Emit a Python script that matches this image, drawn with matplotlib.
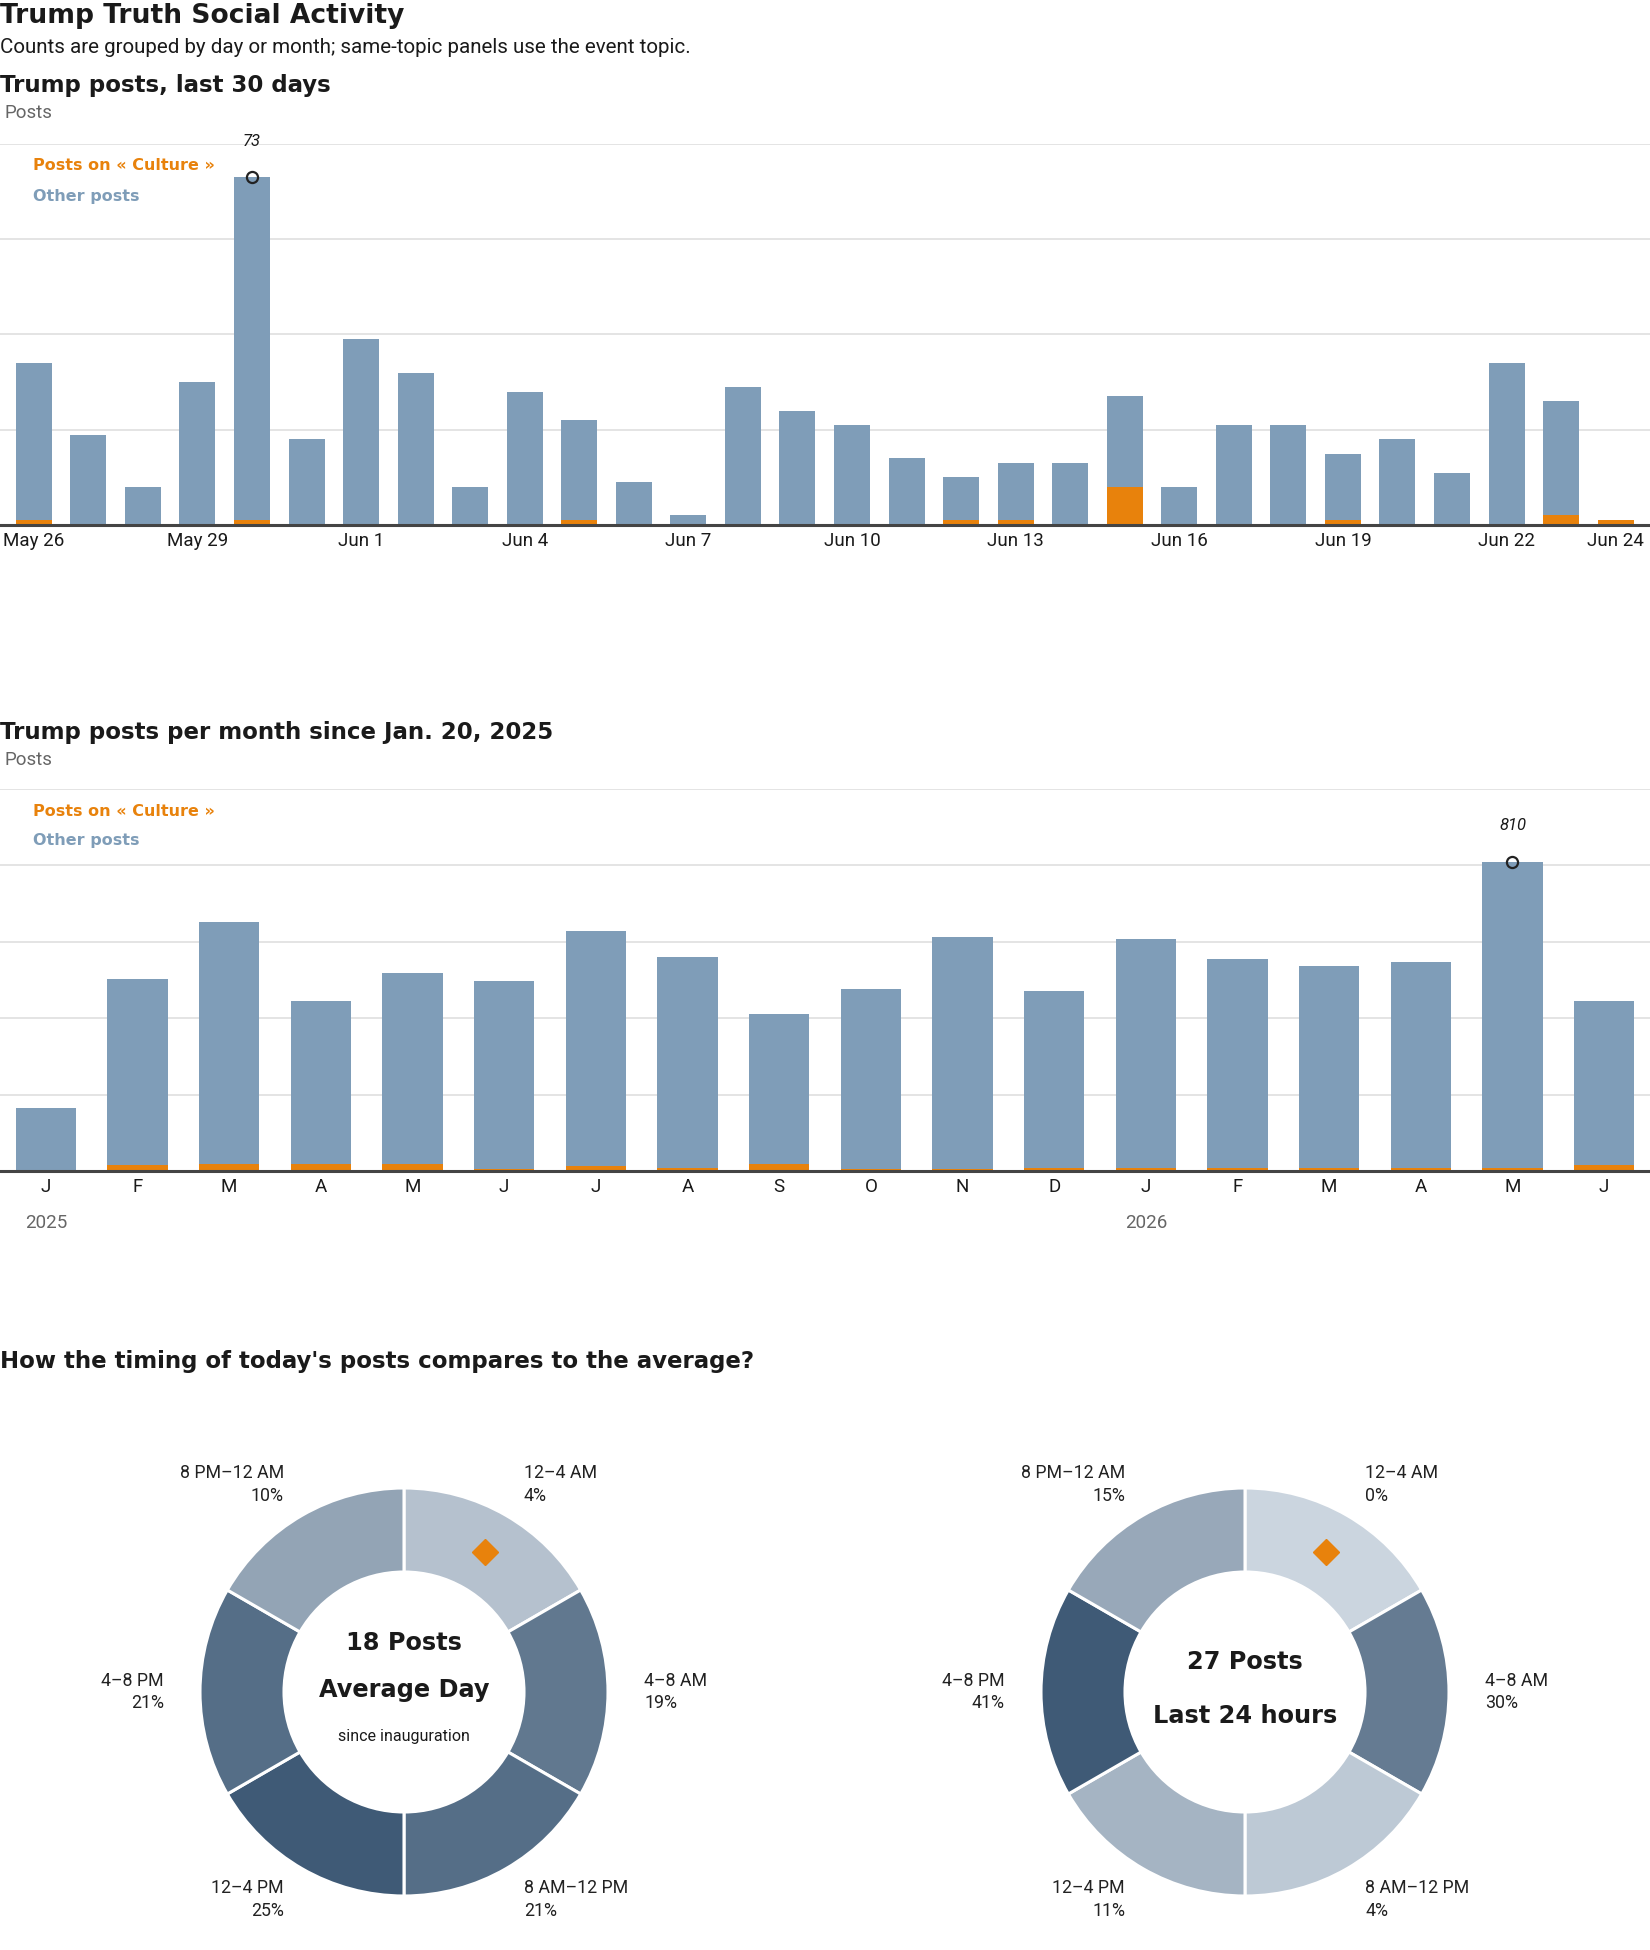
import numpy as np
import pandas as pd
import matplotlib
matplotlib.use("Agg")
import matplotlib.pyplot as plt
from matplotlib import font_manager
from matplotlib.colors import to_rgb

# --- data ---
days = pd.date_range("2026-05-26", "2026-06-24", freq="D")
daily_total = [34, 19, 8, 30, 73, 18, 39, 32, 8, 28, 22, 9, 2, 29, 24,
               21, 14, 10, 13, 13, 27, 8, 21, 21, 15, 18, 11, 34, 26, 1]
daily_culture = [1, 0, 0, 0, 1, 0, 0, 0, 0, 0, 1, 0, 0, 0, 0,
                 0, 0, 1, 1, 0, 8, 0, 0, 0, 1, 0, 0, 0, 2, 1]

month_labels = ["J", "F", "M", "A", "M", "J", "J", "A", "S", "O", "N", "D",
                "J", "F", "M", "A", "M", "J"]
month_years = {0: "2025", 12: "2026"}
monthly_total = [164, 503, 652, 445, 518, 497, 628, 560, 411, 476, 613, 471,
                 608, 555, 537, 547, 810, 445]
monthly_culture = [0, 15, 19, 18, 19, 6, 12, 9, 19, 4, 4, 8,
                   9, 8, 9, 9, 9, 15]

slots = ["12–4 AM", "4–8 AM", "8 AM–12 PM", "12–4 PM", "4–8 PM", "8 PM–12 AM"]
slot_hours = [4, 4, 4, 4, 4, 4]
avg_pct = [4, 19, 21, 25, 21, 10]
last24_pct = [0, 30, 4, 11, 41, 15]
current_slot = "12–4 AM"
avg_posts = 18
last24_posts = 27

# --- style ---
W, H, DPI = 1650, 1950, 100
ORANGE = "#e8820c"
BLUE = "#7f9db8"
GRID = "#dcdcdc"
INK = "#1a1a1a"
LIGHT, DARK = "#cbd5df", "#3f5a76"

installed = {f.name for f in font_manager.fontManager.ttflist}


def pick(*names):
    for n in names:
        if n in installed:
            return n
    return "DejaVu Sans"


HEAD = "DejaVu Sans"
BODY = pick("Liberation Sans Narrow", "Roboto", "Liberation Sans")
LABEL = pick("Roboto", "Liberation Sans")
plt.rcParams["font.family"] = [BODY, "DejaVu Sans"]

fig = plt.figure(figsize=(W / DPI, H / DPI), dpi=DPI)
fig.patch.set_facecolor("white")


def box(x, y, w, h):
    return [x / W, 1 - (y + h) / H, w / W, h / H]


def ftext(x, y, s, **kw):
    return fig.text(x / W, 1 - y / H, s, **kw)


# headers
ftext(0, 23, "Trump Truth Social Activity", family=HEAD, fontweight="bold",
      fontsize=19.1, color=INK, va="baseline")
ftext(0, 53, "Counts are grouped by day or month; same-topic panels use the event topic.",
      family=BODY, fontsize=14.8, color=INK, va="baseline")

title_y_text = {92: "Trump posts, last 30 days",
                739: "Trump posts per month since Jan. 20, 2025"}


def bar_panel(top, bottom, x, total, culture, ymax, step, xlim, title_y):
    ftext(0, title_y, title_y_text[title_y], family=HEAD, fontweight="bold",
          fontsize=16.5, color=INK, va="baseline")
    ftext(4, title_y + 26, "Posts", family=BODY, fontsize=13.5, color="#666666",
          va="baseline")
    ax = fig.add_axes(box(0, top, W, bottom - top))
    total = np.array(total)
    culture = np.array(culture)
    other = total - culture
    ax.bar(x, culture, width=0.66, color=ORANGE, zorder=2)
    ax.bar(x, other, bottom=culture, width=0.66, color=BLUE, zorder=2)
    ax.set_xlim(*xlim)
    ax.set_ylim(0, ymax)
    ax.set_yticks(np.arange(step, ymax + 1, step))
    ax.set_yticklabels([])
    ax.tick_params(axis="y", length=0)
    ax.grid(axis="y", color=GRID, lw=1.1)
    ax.set_axisbelow(True)
    for s in ["left", "right", "top"]:
        ax.spines[s].set_visible(False)
    ax.spines["bottom"].set_color("#444444")
    ax.spines["bottom"].set_linewidth(2.2)
    ax.spines["bottom"].set_zorder(3)
    ax.tick_params(axis="x", length=0, pad=5, labelsize=13.5, labelcolor=INK)
    # peak marker
    i = int(np.argmax(total))
    ax.plot(x[i], total[i], "o", mfc="none", mec="#222222", ms=8, mew=1.6,
            zorder=4, clip_on=False)
    ax.annotate(str(total[i]), (x[i], total[i]), xytext=(0, 26),
                textcoords="offset points", ha="center", va="center",
                fontsize=12, style="italic", family=BODY, color=INK,
                annotation_clip=False)
    # legend
    ftext(33, top + 22, "Posts on « Culture »", family=HEAD, fontweight="bold",
          fontsize=11.5, color=ORANGE, va="center")
    ftext(33, top + 52, "Other posts", family=HEAD, fontweight="bold",
          fontsize=11.5, color=BLUE, va="center")
    return ax


# daily panel
xd = np.arange(len(days))
ax1 = bar_panel(144, 525, xd, daily_total, daily_culture, 80, 20,
                (-0.62, 29.63), 92)
tick_idx = list(range(0, len(days) - 1, 3)) + [len(days) - 1]
ax1.set_xticks(tick_idx)
ax1.set_xticklabels([f"{days[i]:%b} {days[i].day}" for i in tick_idx])

# monthly panel
xm = np.arange(len(month_labels))
ax2 = bar_panel(789, 1171, xm, monthly_total, monthly_culture, 1000, 200,
                (-0.5, 17.5), 739)
ax2.set_xticks(xm)
ax2.set_xticklabels(month_labels)
for i, yr in month_years.items():
    ax2.annotate(yr, (i, 0), xytext=(0, -37.5), textcoords="offset points",
                 ha="center", va="center", fontsize=13.5, color="#666666",
                 family=BODY, annotation_clip=False)

# timing section
ftext(0, 1368, "How the timing of today's posts compares to the average?",
      family=HEAD, fontweight="bold", fontsize=16.5, color=INK, va="baseline")

R = 204.0
HALF = 300.0


def donut(cx, cy, pcts, center_lines):
    ax = fig.add_axes(box(cx - HALF, cy - HALF, 2 * HALF, 2 * HALF))
    pmax = max(pcts)
    lo, hi = np.array(to_rgb(LIGHT)), np.array(to_rgb(DARK))
    cols = [tuple(lo + (hi - lo) * p / pmax) for p in pcts]
    ax.pie(slot_hours, radius=1, startangle=90, counterclock=False, colors=cols,
           wedgeprops=dict(width=84 / R, edgecolor="white", linewidth=2.2))
    lim = HALF / R
    ax.set_xlim(-lim, lim)
    ax.set_ylim(-lim, lim)
    ax.set_aspect("equal")
    ax.axis("off")
    # labels at the middle angle of each slot
    edges = np.cumsum([0] + slot_hours) / sum(slot_hours) * 360
    mids = np.deg2rad((edges[:-1] + edges[1:]) / 2)
    rl = 240 / R
    for name, p, a in zip(slots, pcts, mids):
        sx, sy = np.sin(a), np.cos(a)
        ha = "left" if sx > 1e-6 else "right"
        ax.text(rl * sx, rl * sy, f"{name}\n{p}%", ha=ha, va="center",
                multialignment=ha, fontsize=12.8, family=LABEL, color="#222222",
                linespacing=1.35)
    k = slots.index(current_slot)
    rm = 162 / R
    ax.plot(rm * np.sin(mids[k]), rm * np.cos(mids[k]), marker="D", ms=13,
            color=ORANGE, mec=ORANGE, zorder=5)
    for txt, dy, size, weight in center_lines:
        ax.text(0, dy / R, txt, ha="center", va="center", fontsize=size,
                fontweight=weight, family=HEAD if weight == "bold" else LABEL,
                color=INK)


donut(404, 1692, avg_pct, [(f"{avg_posts} Posts", 49, 17.3, "bold"),
                           ("Average Day", 2, 17.3, "bold"),
                           ("since inauguration", -44, 11.5, "normal")])
donut(1245, 1692, last24_pct, [(f"{last24_posts} Posts", 30, 17.3, "bold"),
                               ("Last 24 hours", -24, 17.3, "bold")])

fig.savefig("out.png", dpi=DPI, facecolor="white")
